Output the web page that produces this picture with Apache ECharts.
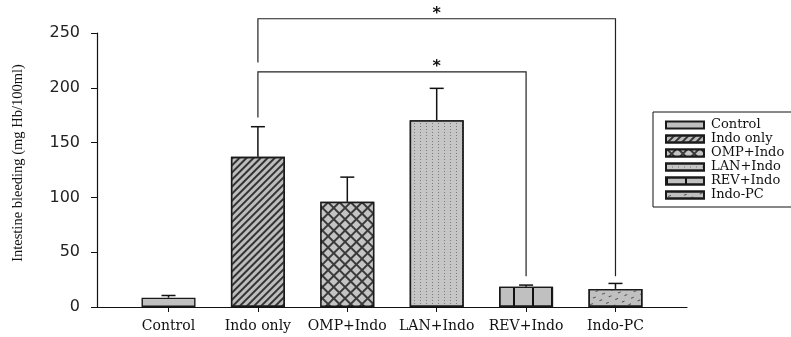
<!DOCTYPE html>
<html>
<head>
<meta charset="utf-8">
<script src="https://cdn.jsdelivr.net/npm/echarts@6/dist/echarts.min.js"></script>
<style>html,body{margin:0;padding:0;background:#fff}#c{width:791px;height:337px}</style>
</head>
<body>
<div id="c"></div>
<script>
const categories = ['Control', 'Indo only', 'OMP+Indo', 'LAN+Indo', 'REV+Indo', 'Indo-PC'];
const means = [8.5, 137, 96, 170.5, 18.5, 16.5];
const errors = [2, 27.5, 22.5, 29, 1.5, 5];
const yTicks = [0, 50, 100, 150, 200, 250];
// brackets: [fromCategory, toCategory, level, leftEnd, rightEnd]
const brackets = [[1, 5, 263, 223, 28], [1, 4, 214.5, 173, 28]];
const stars = [[3, 263], [3, 214.5]];

const fills = ['#c0c0c0', '#bdbdbd', '#3a3a3a', '#c6c6c6', '#c0c0c0', '#c0c0c0'];
const decals = [
  null,
  {symbol: 'rect', dashArrayX: [1, 0], dashArrayY: [2, 3], rotation: -Math.PI / 4, color: '#333', symbolSize: 1},
  {symbol: 'rect', dashArrayX: [6, 2], dashArrayY: [6, 2], rotation: Math.PI / 4, color: '#c4c4c4', symbolSize: 1},
  {symbol: 'rect', dashArrayX: [1, 5], dashArrayY: [1, 2], color: '#7a7a7a', symbolSize: 1},
  {symbol: 'rect', dashArrayX: [2, 17], dashArrayY: [1, 0], color: '#111', symbolSize: 1},
  {symbol: 'rect', dashArrayX: [[3, 7], [0, 5, 3, 2]], dashArrayY: [1, 4], rotation: -0.4, color: '#555', symbolSize: 1}
];

const chart = echarts.init(document.getElementById('c'), null, {renderer: 'canvas'});

const barSeries = categories.map((name, i) => ({
  name: name,
  type: 'bar',
  data: [[i, means[i]]],
  barWidth: 54,
  barGap: '-100%',
  itemStyle: Object.assign({color: fills[i], borderColor: '#1a1a1a', borderWidth: 1.4}, decals[i] ? {decal: decals[i]} : {}),
  emphasis: {disabled: true},
  z: 2
}));

const option = {
  animation: false,
  backgroundColor: '#fff',
  grid: {left: 97, right: 104, top: 33, bottom: 30},
  legend: {
    orient: 'vertical',
    left: 653,
    top: 112,
    padding: [6, 12, 5, 12],
    borderColor: '#111',
    borderWidth: 1,
    itemWidth: 38,
    itemHeight: 7,
    itemGap: 0,
    icon: 'rect',
    textStyle: {fontFamily: 'DejaVu Serif', fontSize: 13, color: '#111', lineHeight: 14, padding: [0, 0, 0, 2]},
    data: categories
  },
  xAxis: {
    type: 'value',
    min: -0.8,
    max: 5.8,
    axisLine: {show: true, onZero: false, lineStyle: {color: '#111', width: 1.2}},
    axisTick: {show: true, customValues: [0, 1, 2, 3, 4, 5], length: 5, lineStyle: {color: '#111'}},
    axisLabel: {
      customValues: [0, 1, 2, 3, 4, 5],
      formatter: v => categories[Math.round(v)],
      fontFamily: 'DejaVu Serif', fontSize: 14, color: '#111', margin: 12
    },
    splitLine: {show: false}
  },
  yAxis: {
    type: 'value',
    min: 0,
    max: 250,
    interval: 50,
    name: 'Intestine bleeding (mg Hb/100ml)',
    nameLocation: 'middle',
    nameGap: 71,
    nameTextStyle: {fontFamily: 'Liberation Serif', fontSize: 14.5, color: '#111', padding: [0, 0, 0, 14]},
    axisLine: {show: true, onZero: false, lineStyle: {color: '#111', width: 1.2}},
    axisTick: {show: true, inside: false, length: 6, lineStyle: {color: '#111'}},
    axisLabel: {fontFamily: 'DejaVu Sans', fontSize: 16, color: '#222', margin: 17,
      customValues: yTicks},
    splitLine: {show: false}
  },
  series: barSeries.concat([
    {
      type: 'custom',
      name: 'errors',
      data: categories.map((c, i) => [i, means[i], errors[i]]),
      z: 3,
      silent: true,
      renderItem: function (params, api) {
        const x = api.value(0);
        const base = api.coord([x, api.value(1)]);
        const top = api.coord([x, api.value(1) + api.value(2)]);
        const st = {stroke: '#111', lineWidth: 1.5};
        return {type: 'group', children: [
          {type: 'line', shape: {x1: base[0], y1: base[1], x2: top[0], y2: top[1]}, style: st},
          {type: 'line', shape: {x1: top[0] - 7, y1: top[1], x2: top[0] + 7, y2: top[1]}, style: st}
        ]};
      }
    },
    {
      type: 'custom',
      name: 'brackets',
      data: brackets,
      clip: false,
      z: 3,
      silent: true,
      renderItem: function (params, api) {
        const a = api.coord([api.value(0), api.value(2)]);
        const b = api.coord([api.value(1), api.value(2)]);
        const aBot = api.coord([api.value(0), api.value(3)]);
        const bBot = api.coord([api.value(1), api.value(4)]);
        return {type: 'polyline', shape: {points: [aBot, a, b, bBot]},
          style: {stroke: '#222', lineWidth: 1.2, fill: null}};
      }
    },
    {
      type: 'custom',
      name: 'stars',
      data: stars,
      clip: false,
      z: 3,
      silent: true,
      renderItem: function (params, api) {
        const p = api.coord([api.value(0), api.value(1)]);
        return {type: 'text', x: p[0], y: p[1] - 5,
          style: {text: '*', fontFamily: 'DejaVu Sans', fontWeight: 'bold', fontSize: 16, fill: '#111',
            align: 'center', verticalAlign: 'middle'}};
      }
    }
  ])
};
chart.setOption(option);
</script>
</body>
</html>
